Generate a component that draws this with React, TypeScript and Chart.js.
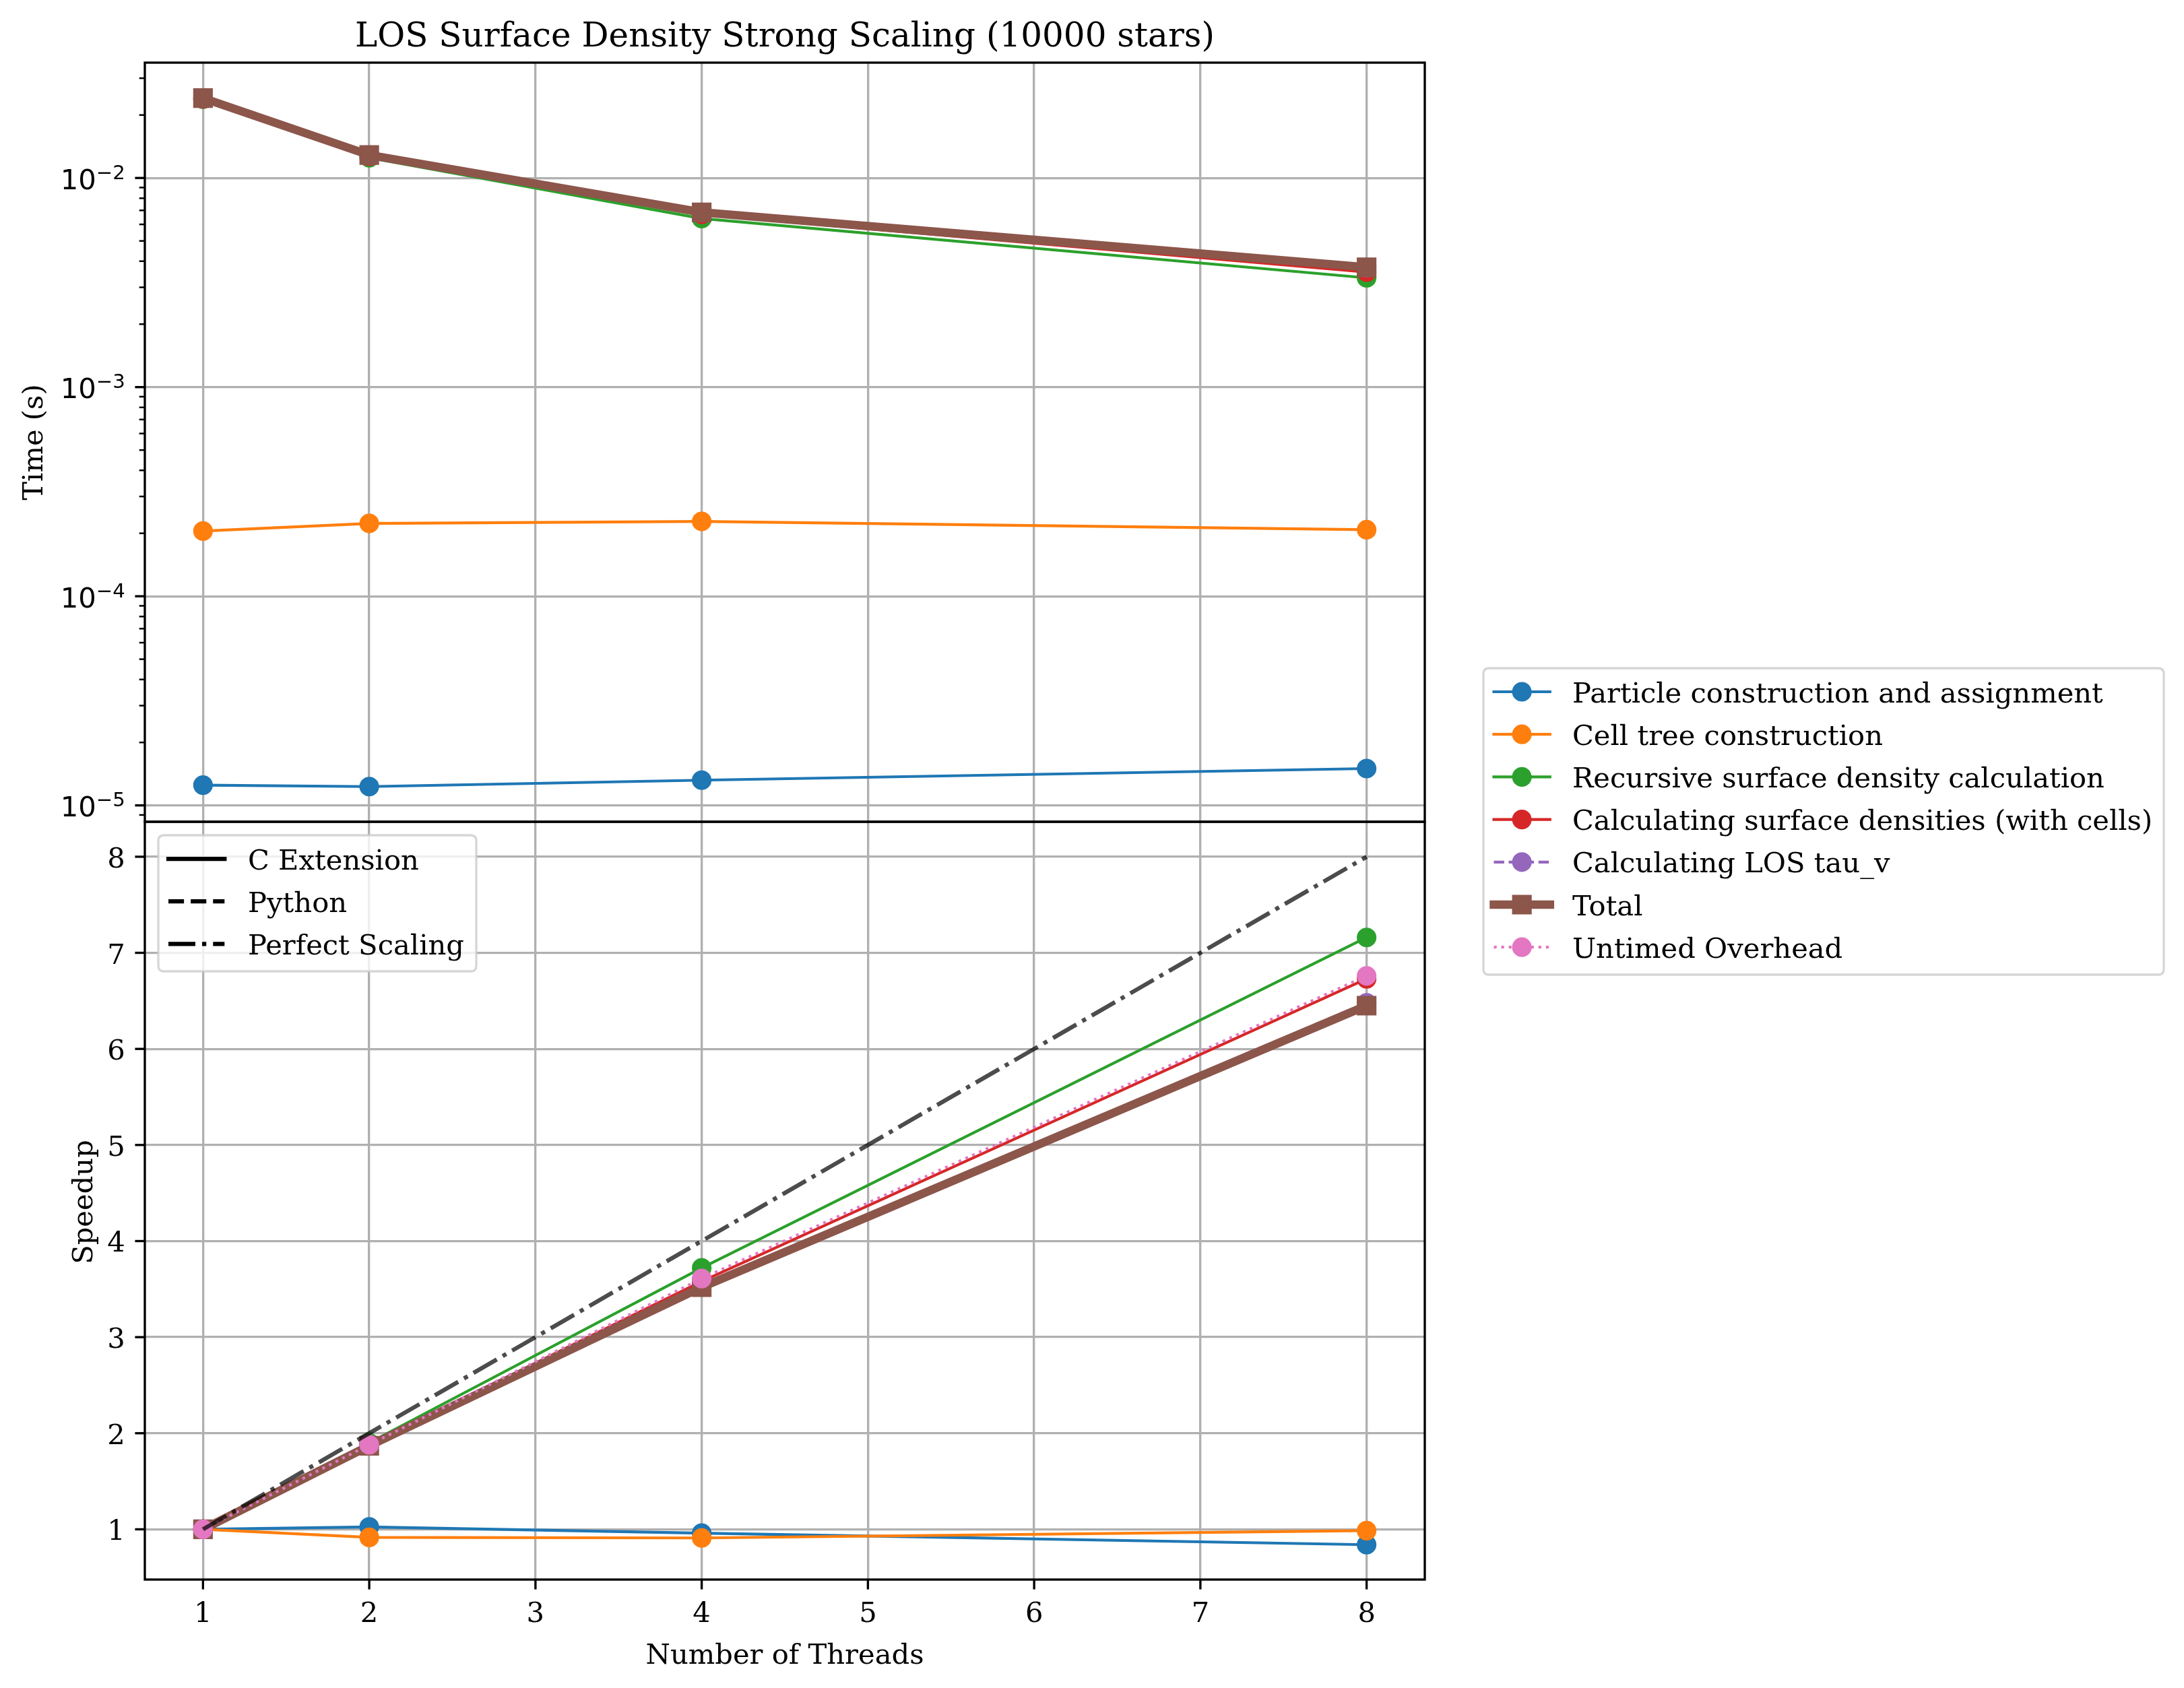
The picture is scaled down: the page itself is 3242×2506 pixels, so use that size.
import React, { useEffect, useRef } from 'react';
import { Chart, registerables } from 'chart.js';

Chart.register(...registerables);

// ---------------- data ----------------
const THREADS = [1, 2, 4, 8];
const X_TICKS = [1, 2, 3, 4, 5, 6, 7, 8];
const SPEEDUP_TICKS = [1, 2, 3, 4, 5, 6, 7, 8];
const TIME_MAJOR_TICKS = [1e-5, 1e-4, 1e-3, 1e-2];

const TIME_PARTICLE = [1.25e-5, 1.23e-5, 1.32e-5, 1.5e-5];
const TIME_CELL_TREE = [2.05e-4, 2.23e-4, 2.28e-4, 2.08e-4];
const TIME_RECURSIVE = [0.0238, 0.0125, 0.0064, 0.00333];
const TIME_SURF_DENS = [0.0239, 0.0127, 0.0067, 0.00355];
const TIME_LOS_TAU = [0.0241, 0.01285, 0.00684, 0.00373];
const TIME_TOTAL = [0.0241, 0.01288, 0.00685, 0.00374];

const SPEED_PARTICLE = [1, 1.025, 0.96, 0.84];
const SPEED_CELL_TREE = [1, 0.916, 0.91, 0.986];
const SPEED_RECURSIVE = [1, 1.9, 3.72, 7.16];
const SPEED_SURF_DENS = [1, 1.88, 3.58, 6.73];
const SPEED_LOS_TAU = [1, 1.87, 3.54, 6.48];
const SPEED_TOTAL = [1, 1.87, 3.52, 6.45];
const SPEED_OVERHEAD = [1, 1.88, 3.61, 6.76];
const SPEED_PERFECT = [1, 2, 4, 8];

const SERIES_LABELS = [
  'Particle construction and assignment',
  'Cell tree construction',
  'Recursive surface density calculation',
  'Calculating surface densities (with cells)',
  'Calculating LOS tau_v',
  'Total',
  'Untimed Overhead',
];
const STYLE_LABELS = ['C Extension', 'Python', 'Perfect Scaling'];
const TITLE = 'LOS Surface Density Strong Scaling (10000 stars)';
const X_LABEL = 'Number of Threads';
const Y_TIME_LABEL = 'Time (s)';
const Y_SPEED_LABEL = 'Speedup';

// ---------------- styling ----------------
const W = 3242;
const H = 2506;
const PT = 300 / 72;
const FS = 10 * PT; // 41.67
const SERIF = '"DejaVu Serif", serif';
const SANS = '"DejaVu Sans", sans-serif';
const GRID = '#b0b0b0';

const AX_L = 215;
const AX_R = 2115;
const AX_T = 93;
const AX_MID = 1220;
const AX_B = 2345;

const X_MIN = 0.65;
const X_MAX = 8.35;
const T_MIN = 8.35e-6;
const T_MAX = 0.0356;
const S_MIN = 0.477;
const S_MAX = 8.364;

type Marker = 'circle' | 'rect' | null;
interface SeriesStyle {
  label: string;
  color: string;
  lw: number;
  dash: number[];
  marker: Marker;
  time: number[] | null;
  speed: number[];
}

const DASHED = [3.7 * PT, 1.6 * PT];
const DOTTED = [1 * PT, 1.65 * PT];
const DASHDOT = [6.4 * 1.5 * PT, 1.6 * 1.5 * PT, 1 * 1.5 * PT, 1.6 * 1.5 * PT];

const SERIES: SeriesStyle[] = [
  { label: SERIES_LABELS[0], color: '#1f77b4', lw: PT, dash: [], marker: 'circle', time: TIME_PARTICLE, speed: SPEED_PARTICLE },
  { label: SERIES_LABELS[1], color: '#ff7f0e', lw: PT, dash: [], marker: 'circle', time: TIME_CELL_TREE, speed: SPEED_CELL_TREE },
  { label: SERIES_LABELS[2], color: '#2ca02c', lw: PT, dash: [], marker: 'circle', time: TIME_RECURSIVE, speed: SPEED_RECURSIVE },
  { label: SERIES_LABELS[3], color: '#d62728', lw: PT, dash: [], marker: 'circle', time: TIME_SURF_DENS, speed: SPEED_SURF_DENS },
  { label: SERIES_LABELS[4], color: '#9467bd', lw: PT, dash: DASHED, marker: 'circle', time: TIME_LOS_TAU, speed: SPEED_LOS_TAU },
  { label: SERIES_LABELS[5], color: '#8c564b', lw: 3 * PT, dash: [], marker: 'rect', time: TIME_TOTAL, speed: SPEED_TOTAL },
  { label: SERIES_LABELS[6], color: '#e377c2', lw: PT, dash: DOTTED, marker: 'circle', time: null, speed: SPEED_OVERHEAD },
];

const MS = 6 * PT; // marker size (diameter)
const MEW = 1 * PT;

function pointOpts(s: SeriesStyle) {
  return {
    pointStyle: s.marker === 'rect' ? 'rect' : 'circle',
    pointRadius: s.marker === 'rect' ? (MS / 2) * Math.SQRT2 : MS / 2,
    pointBorderWidth: MEW,
    pointBackgroundColor: s.color,
    pointBorderColor: s.color,
    pointHoverRadius: 0,
  };
}

function buildDatasets() {
  const ds: any[] = [];
  const n = SERIES.length;
  SERIES.forEach((s, i) => {
    const common = {
      label: s.label,
      borderColor: s.color,
      backgroundColor: s.color,
      borderWidth: s.lw,
      borderDash: s.dash,
      borderCapStyle: s.dash.length ? 'butt' : 'round',
      borderJoinStyle: 'round',
      fill: false,
      tension: 0,
      order: n + 1 - i,
      xAxisID: 'x',
      ...pointOpts(s),
    };
    if (s.time) {
      ds.push({ ...common, yAxisID: 'yTime', data: THREADS.map((x, j) => ({ x, y: s.time![j] })) });
    }
    ds.push({ ...common, yAxisID: 'ySpeed', data: THREADS.map((x, j) => ({ x, y: s.speed[j] })) });
  });
  ds.push({
    label: STYLE_LABELS[2],
    borderColor: 'rgba(0,0,0,0.7)',
    backgroundColor: 'rgba(0,0,0,0.7)',
    borderWidth: 1.5 * PT,
    borderDash: DASHDOT,
    borderCapStyle: 'butt',
    fill: false,
    pointRadius: 0,
    pointHoverRadius: 0,
    order: 0,
    xAxisID: 'x',
    yAxisID: 'ySpeed',
    data: THREADS.map((x, j) => ({ x, y: SPEED_PERFECT[j] })),
  });
  return ds;
}

function roundRect(ctx: CanvasRenderingContext2D, x: number, y: number, w: number, h: number, r: number) {
  ctx.beginPath();
  ctx.moveTo(x + r, y);
  ctx.lineTo(x + w - r, y);
  ctx.quadraticCurveTo(x + w, y, x + w, y + r);
  ctx.lineTo(x + w, y + h - r);
  ctx.quadraticCurveTo(x + w, y + h, x + w - r, y + h);
  ctx.lineTo(x + r, y + h);
  ctx.quadraticCurveTo(x, y + h, x, y + h - r);
  ctx.lineTo(x, y + r);
  ctx.quadraticCurveTo(x, y, x + r, y);
  ctx.closePath();
}

function drawFrame(ctx: CanvasRenderingContext2D, x: number, y: number, w: number, h: number) {
  roundRect(ctx, x, y, w, h, 0.2 * FS);
  ctx.fillStyle = 'rgba(255,255,255,0.8)';
  ctx.fill();
  ctx.strokeStyle = 'rgba(204,204,204,0.8)';
  ctx.lineWidth = 0.8 * PT;
  ctx.stroke();
}

function drawHandle(ctx: CanvasRenderingContext2D, x0: number, x1: number, y: number, color: string, lw: number, dash: number[], marker: Marker) {
  ctx.save();
  ctx.strokeStyle = color;
  ctx.lineWidth = lw;
  ctx.setLineDash(dash);
  ctx.lineCap = dash.length ? 'butt' : 'square';
  ctx.beginPath();
  ctx.moveTo(x0, y);
  ctx.lineTo(x1, y);
  ctx.stroke();
  ctx.setLineDash([]);
  const cx = (x0 + x1) / 2;
  if (marker) {
    ctx.fillStyle = color;
    ctx.lineWidth = MEW;
    ctx.beginPath();
    if (marker === 'circle') {
      ctx.arc(cx, y, MS / 2, 0, Math.PI * 2);
    } else {
      ctx.rect(cx - MS / 2, y - MS / 2, MS, MS);
    }
    ctx.fill();
    ctx.stroke();
  }
  ctx.restore();
}

const figurePlugin = {
  id: 'figureDecor',
  afterDraw(chart: any) {
    const ctx: CanvasRenderingContext2D = chart.ctx;
    const xs = chart.scales.x;
    const yt = chart.scales.yTime;
    const ys = chart.scales.ySpeed;
    const L = chart.chartArea.left;
    const R = chart.chartArea.right;
    ctx.save();

    // spines
    ctx.strokeStyle = '#000';
    ctx.lineWidth = 0.8 * PT;
    ctx.strokeRect(L, yt.top, R - L, yt.bottom - yt.top);
    ctx.strokeRect(L, ys.top, R - L, ys.bottom - ys.top);

    const majLen = 3.5 * PT;
    const minLen = 2 * PT;
    const lblGap = majLen + 3.5 * PT;

    // x ticks + labels
    ctx.fillStyle = '#000';
    ctx.font = `${FS}px ${SERIF}`;
    ctx.textAlign = 'center';
    ctx.textBaseline = 'alphabetic';
    ctx.lineWidth = 0.8 * PT;
    X_TICKS.forEach((v) => {
      const px = xs.getPixelForValue(v);
      ctx.beginPath();
      ctx.moveTo(px, ys.bottom);
      ctx.lineTo(px, ys.bottom + majLen);
      ctx.stroke();
      ctx.fillText(String(v), px, ys.bottom + 63);
    });

    // speedup ticks + labels
    ctx.textAlign = 'right';
    SPEEDUP_TICKS.forEach((v) => {
      const py = ys.getPixelForValue(v);
      ctx.beginPath();
      ctx.moveTo(L - majLen, py);
      ctx.lineTo(L, py);
      ctx.stroke();
      ctx.fillText(String(v), L - lblGap, py + 16);
    });

    // log major ticks + labels
    TIME_MAJOR_TICKS.forEach((v) => {
      const py = yt.getPixelForValue(v);
      ctx.lineWidth = 0.8 * PT;
      ctx.beginPath();
      ctx.moveTo(L - majLen, py);
      ctx.lineTo(L, py);
      ctx.stroke();
      const e = Math.round(Math.log10(v));
      const expStr = (e < 0 ? '\u2212' : '') + String(Math.abs(e));
      ctx.font = `${FS * 0.7}px ${SANS}`;
      const ew = ctx.measureText(expStr).width;
      ctx.fillText(expStr, L - lblGap, py + 1.5);
      ctx.font = `${FS}px ${SANS}`;
      ctx.fillText('10', L - lblGap - ew, py + 16.7);
    });
    // log minor ticks
    ctx.lineWidth = 0.6 * PT;
    for (let k = -7; k <= -1; k++) {
      for (let m = 2; m <= 9; m++) {
        const v = m * Math.pow(10, k);
        if (v < yt.min || v > yt.max) continue;
        const py = yt.getPixelForValue(v);
        ctx.beginPath();
        ctx.moveTo(L - minLen, py);
        ctx.lineTo(L, py);
        ctx.stroke();
      }
    }

    // title
    ctx.font = `${12 * PT}px ${SERIF}`;
    ctx.textAlign = 'center';
    ctx.textBaseline = 'alphabetic';
    ctx.fillText(TITLE, (L + R) / 2, yt.top - 24);

    // axis labels
    ctx.font = `${FS}px ${SERIF}`;
    ctx.fillText(X_LABEL, (L + R) / 2, ys.bottom + 125);
    ctx.save();
    ctx.translate(63, (yt.top + yt.bottom) / 2);
    ctx.rotate(-Math.PI / 2);
    ctx.fillText(Y_TIME_LABEL, 0, 0);
    ctx.restore();
    ctx.save();
    ctx.translate(136.5, (ys.top + ys.bottom) / 2 + 2);
    ctx.rotate(-Math.PI / 2);
    ctx.fillText(Y_SPEED_LABEL, 0, 0);
    ctx.restore();

    // right legend
    const rowH = 63.2;
    const rX = 2202;
    const rY = 992;
    const rW = 1010;
    const rH = 455;
    drawFrame(ctx, rX, rY, rW, rH);
    SERIES.forEach((s, i) => {
      const cy = 1027 + i * rowH;
      drawHandle(ctx, 2217.5, 2300.8, cy, s.color, s.lw, s.dash, s.marker);
      ctx.fillStyle = '#000';
      ctx.font = `${FS}px ${SERIF}`;
      ctx.textAlign = 'left';
      ctx.textBaseline = 'alphabetic';
      ctx.fillText(s.label, 2334, cy + 15.5);
    });

    // style legend (bottom subplot, upper left)
    drawFrame(ctx, 235, ys.top + 20, 472, 202);
    const styleDash = [[], [3.7 * 1.5 * PT, 1.6 * 1.5 * PT], DASHDOT];
    STYLE_LABELS.forEach((lab, i) => {
      const cy = ys.top + 55 + i * rowH;
      drawHandle(ctx, 250, 333.3, cy, '#000', 1.5 * PT, styleDash[i], null);
      ctx.fillStyle = '#000';
      ctx.font = `${FS}px ${SERIF}`;
      ctx.textAlign = 'left';
      ctx.textBaseline = 'alphabetic';
      ctx.fillText(lab, 368, cy + 15.5);
    });

    ctx.restore();
  },
};

export default function App() {
  const ref = useRef<HTMLCanvasElement>(null);
  useEffect(() => {
    document.body.style.margin = '0';
    document.documentElement.style.overflow = 'hidden';
    const canvas = ref.current!;
    const chart = new Chart(canvas, {
      type: 'line',
      data: { datasets: buildDatasets() },
      options: {
        responsive: false,
        maintainAspectRatio: false,
        devicePixelRatio: 1,
        animation: false,
        events: [],
        layout: { autoPadding: false, padding: { left: 0, top: AX_T, right: W - AX_R, bottom: 0 } },
        plugins: { legend: { display: false }, tooltip: { enabled: false }, title: { display: false } },
        scales: {
          x: {
            type: 'linear',
            position: 'bottom',
            min: X_MIN,
            max: X_MAX,
            bounds: 'data',
            afterBuildTicks: (s: any) => { s.ticks = X_TICKS.map((v) => ({ value: v })); },
            afterFit: (s: any) => { s.height = H - AX_B; },
            ticks: { display: false },
            grid: { color: GRID, lineWidth: 0.8 * PT, drawTicks: false },
            border: { display: false },
          },
          ySpeed: {
            type: 'linear',
            position: 'left',
            stack: 'v',
            stackWeight: AX_B - AX_MID,
            min: S_MIN,
            max: S_MAX,
            bounds: 'data',
            afterBuildTicks: (s: any) => { s.ticks = SPEEDUP_TICKS.map((v) => ({ value: v })); },
            afterFit: (s: any) => { s.width = AX_L; },
            ticks: { display: false },
            grid: { color: GRID, lineWidth: 0.8 * PT, drawTicks: false },
            border: { display: false },
          },
          yTime: {
            type: 'logarithmic',
            position: 'left',
            stack: 'v',
            stackWeight: AX_MID - AX_T,
            min: T_MIN,
            max: T_MAX,
            bounds: 'data',
            afterBuildTicks: (s: any) => { s.ticks = TIME_MAJOR_TICKS.map((v) => ({ value: v, major: true })); },
            afterFit: (s: any) => { s.width = AX_L; },
            ticks: { display: false },
            grid: { color: GRID, lineWidth: 0.8 * PT, drawTicks: false },
            border: { display: false },
          },
        },
      } as any,
      plugins: [figurePlugin],
    });
    return () => chart.destroy();
  }, []);
  return (
    <div style={{ position: 'absolute', left: 0, top: 0, width: W, height: H, background: '#fff' }}>
      <canvas ref={ref} width={W} height={H} style={{ width: W, height: H, display: 'block' }} />
    </div>
  );
}
